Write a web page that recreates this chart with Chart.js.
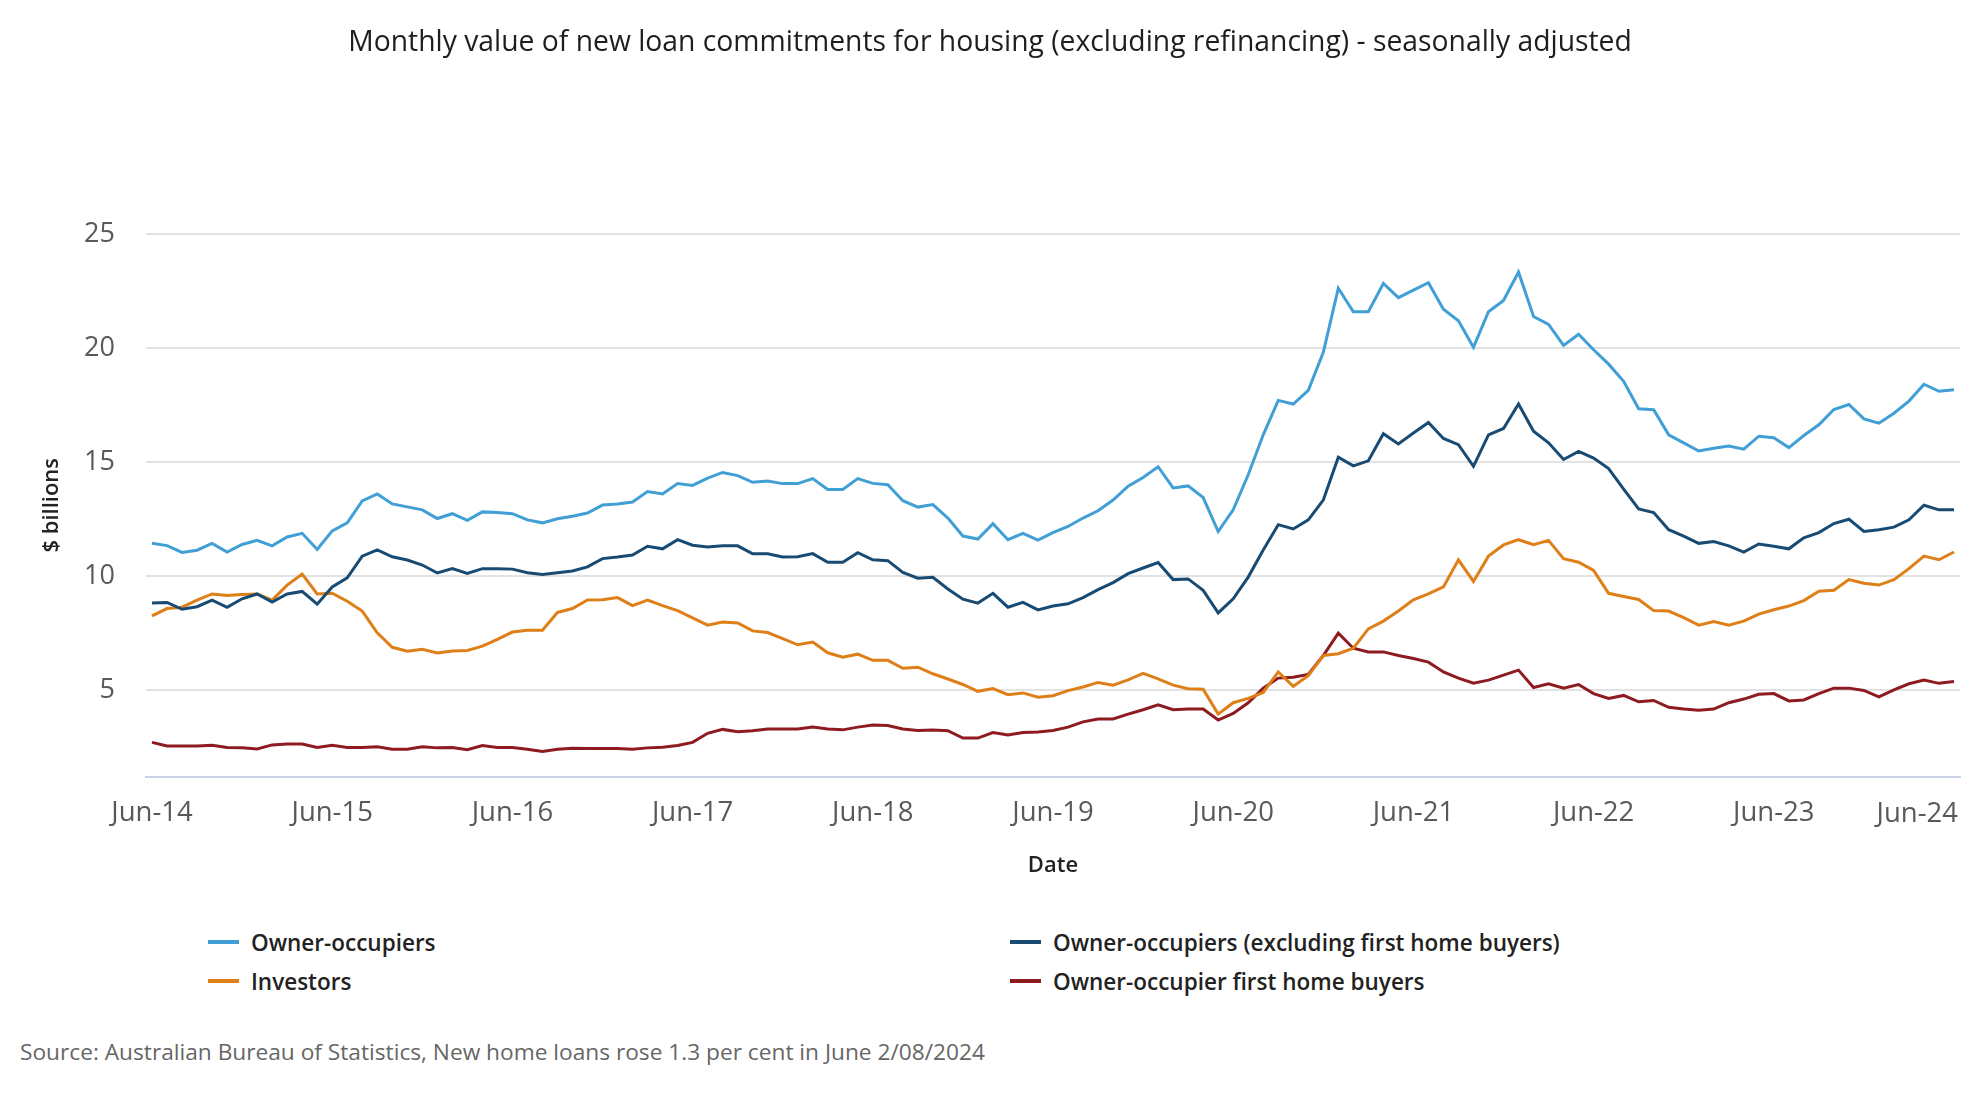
<!DOCTYPE html>
<html>
<head>
<meta charset="utf-8">
<script src="https://cdn.jsdelivr.net/npm/chart.js@4.4.1/dist/chart.umd.min.js"></script>
<style>
	body { margin: 0; background: #fff; font-family: "Open Sans", sans-serif; }
	#page { position: relative; width: 1980px; height: 1100px; overflow: hidden; }
	#chartBox { position: absolute; left: 0; top: 0; width: 1980px; height: 879px; }
	#legend { position: absolute; left: 208px; top: 927px; display: grid; grid-template-columns: 802px auto; row-gap: 9px; }
	.item { display: flex; align-items: center; height: 30px; font-size: 22.5px; font-weight: 600; color: #222; }
	.swatch { width: 31px; height: 4px; margin-right: 12px; }
	#source { position: absolute; left: 20px; top: 1036px; font-size: 22.7px; color: #666; }
</style>
</head>
<body>
<div id="page">
	<div id="chartBox"><canvas id="loans"></canvas></div>
	<div id="legend"></div>
	<div id="source">Source: Australian Bureau of Statistics, New home loans rose 1.3 per cent in June 2/08/2024</div>
</div>
<script>
	// Jun-14 .. Jun-24, monthly
	const monthNames = ['Jan','Feb','Mar','Apr','May','Jun','Jul','Aug','Sep','Oct','Nov','Dec'];
	const months = [];
	for (let i = 0; i <= 120; i++) {
		const m = 5 + i;
		months.push(monthNames[m % 12] + '-' + String(2014 + Math.floor(m / 12)).slice(2));
	}

	const yTicks = [5, 10, 15, 20, 25];

	// $ billions
	const owners = [
		11.43, 11.33, 11.03, 11.13, 11.43, 11.05, 11.38, 11.56, 11.32, 11.71, 11.87, 11.16,
		11.98, 12.33, 13.29, 13.60, 13.16, 13.03, 12.90, 12.52, 12.73, 12.44, 12.81, 12.78,
		12.73, 12.46, 12.33, 12.51, 12.62, 12.76, 13.11, 13.16, 13.24, 13.70, 13.60, 14.05,
		13.97, 14.29, 14.54, 14.40, 14.11, 14.16, 14.05, 14.05, 14.27, 13.79, 13.79, 14.27,
		14.06, 14.00, 13.30, 13.02, 13.13, 12.54, 11.75, 11.62, 12.29, 11.59, 11.87, 11.57,
		11.90, 12.17, 12.54, 12.86, 13.33, 13.94, 14.32, 14.79, 13.86, 13.95, 13.44, 11.95,
		12.90, 14.44, 16.19, 17.70, 17.54, 18.14, 19.81, 22.62, 21.59, 21.59, 22.83, 22.21,
		22.54, 22.86, 21.70, 21.19, 20.03, 21.59, 22.08, 23.33, 21.38, 21.03, 20.11, 20.60,
		19.92, 19.29, 18.54, 17.33, 17.29, 16.19, 15.84, 15.48, 15.60, 15.70, 15.56, 16.13,
		16.06, 15.63, 16.16, 16.63, 17.30, 17.52, 16.89, 16.70, 17.14, 17.67, 18.41, 18.10,
		18.17
	];

	const ownersExFirst = [
		8.81, 8.84, 8.54, 8.65, 8.94, 8.62, 9.00, 9.21, 8.86, 9.21, 9.32, 8.76,
		9.52, 9.92, 10.87, 11.14, 10.84, 10.70, 10.48, 10.13, 10.32, 10.11, 10.32, 10.32,
		10.30, 10.14, 10.06, 10.14, 10.22, 10.40, 10.76, 10.83, 10.92, 11.30, 11.19, 11.59,
		11.35, 11.27, 11.33, 11.32, 10.97, 10.97, 10.83, 10.84, 10.98, 10.60, 10.60, 11.02,
		10.71, 10.67, 10.16, 9.90, 9.94, 9.43, 8.98, 8.81, 9.24, 8.63, 8.84, 8.51,
		8.68, 8.78, 9.05, 9.40, 9.71, 10.10, 10.35, 10.59, 9.84, 9.87, 9.37, 8.38,
		9.00, 9.95, 11.14, 12.25, 12.06, 12.46, 13.33, 15.21, 14.83, 15.05, 16.24, 15.79,
		16.27, 16.73, 16.03, 15.76, 14.81, 16.19, 16.47, 17.54, 16.35, 15.84, 15.11, 15.46,
		15.17, 14.71, 13.81, 12.94, 12.78, 12.03, 11.75, 11.43, 11.51, 11.32, 11.05, 11.40,
		11.30, 11.19, 11.67, 11.90, 12.30, 12.49, 11.95, 12.03, 12.14, 12.46, 13.10, 12.90,
		12.90
	];

	const investors = [
		8.25, 8.57, 8.63, 8.94, 9.21, 9.14, 9.19, 9.21, 8.94, 9.60, 10.08, 9.21,
		9.24, 8.89, 8.46, 7.51, 6.87, 6.70, 6.78, 6.62, 6.71, 6.73, 6.92, 7.22,
		7.54, 7.62, 7.62, 8.40, 8.57, 8.95, 8.96, 9.05, 8.70, 8.94, 8.70, 8.48,
		8.16, 7.84, 7.98, 7.94, 7.59, 7.52, 7.25, 6.98, 7.10, 6.63, 6.44, 6.57,
		6.30, 6.30, 5.95, 6.00, 5.71, 5.48, 5.24, 4.94, 5.06, 4.79, 4.87, 4.68,
		4.75, 4.97, 5.13, 5.33, 5.21, 5.44, 5.73, 5.49, 5.21, 5.05, 5.03, 3.94,
		4.44, 4.63, 4.89, 5.79, 5.16, 5.63, 6.51, 6.59, 6.83, 7.68, 8.02, 8.46,
		8.95, 9.21, 9.52, 10.71, 9.76, 10.87, 11.36, 11.59, 11.37, 11.56, 10.76, 10.60,
		10.24, 9.24, 9.10, 8.97, 8.48, 8.46, 8.17, 7.84, 8.00, 7.84, 8.02, 8.33,
		8.52, 8.68, 8.92, 9.33, 9.37, 9.84, 9.68, 9.60, 9.84, 10.32, 10.87, 10.71,
		11.05
	];

	const firstHomeBuyers = [
		2.70, 2.54, 2.54, 2.54, 2.57, 2.48, 2.46, 2.41, 2.59, 2.63, 2.63, 2.48,
		2.57, 2.48, 2.48, 2.51, 2.40, 2.40, 2.51, 2.46, 2.48, 2.38, 2.56, 2.48,
		2.48, 2.40, 2.30, 2.40, 2.44, 2.43, 2.43, 2.43, 2.40, 2.46, 2.49, 2.56,
		2.70, 3.10, 3.27, 3.17, 3.21, 3.29, 3.29, 3.29, 3.38, 3.29, 3.25, 3.37,
		3.46, 3.44, 3.29, 3.22, 3.24, 3.21, 2.89, 2.89, 3.13, 3.03, 3.13, 3.16,
		3.22, 3.37, 3.60, 3.73, 3.73, 3.94, 4.13, 4.35, 4.13, 4.17, 4.16, 3.68,
		3.97, 4.44, 5.08, 5.52, 5.56, 5.68, 6.51, 7.49, 6.83, 6.67, 6.67, 6.51,
		6.38, 6.22, 5.79, 5.52, 5.30, 5.43, 5.65, 5.87, 5.11, 5.27, 5.08, 5.24,
		4.84, 4.63, 4.76, 4.48, 4.54, 4.24, 4.16, 4.11, 4.16, 4.44, 4.60, 4.81,
		4.84, 4.52, 4.56, 4.84, 5.08, 5.08, 4.98, 4.70, 5.00, 5.27, 5.43, 5.29,
		5.37
	];

	const seriesNames = [
		'Owner-occupiers',
		'Owner-occupiers (excluding first home buyers)',
		'Investors',
		'Owner-occupier first home buyers'
	];
	const seriesColors = ['#409fd5', '#184b73', '#de7f17', '#8d1b20'];
	const seriesValues = [owners, ownersExFirst, investors, firstHomeBuyers];

	// only June gets a label on the x axis
	const xTicks = months.map((m, i) => m.startsWith('Jun') ? i : null).filter(i => i !== null);

	const xTickPad = 12;
	const xTickSize = 27.5;

	Chart.defaults.font.family = '"Open Sans", sans-serif';

	// last label sits flush with the right edge, like the original
	const lastTickLabel = {
		id: 'lastTickLabel',
		afterDraw(chart) {
			const scale = chart.scales.x;
			const tick = scale.ticks[scale.ticks.length - 1];
			const ctx = chart.ctx;
			ctx.save();
			ctx.font = xTickSize + 'px "Open Sans"';
			ctx.fillStyle = '#595959';
			ctx.textAlign = 'right';
			ctx.textBaseline = 'middle';
			ctx.fillText(months[tick.value], chart.chartArea.right - 2, scale.top + xTickPad + 26);
			ctx.restore();
		}
	};

	const chart = new Chart(document.querySelector('#loans'), {
		type: 'line',
		data: {
			datasets: seriesValues.map((values, k) => ({
				label: seriesNames[k],
				data: values.map((v, i) => ({x: i, y: v})),
				borderColor: seriesColors[k],
				backgroundColor: seriesColors[k],
				borderWidth: 3,
				pointRadius: 0,
				tension: 0,
			}))
		},
		options: {
			animation: false,
			responsive: true,
			maintainAspectRatio: false,
			layout: {
				padding: 0
			},
			plugins: {
				legend: {display: false},
				tooltip: {enabled: false},
				title: {
					display: true,
					text: 'Monthly value of new loan commitments for housing (excluding refinancing) - seasonally adjusted',
					color: '#1e1e1e',
					font: {size: 28.3, weight: 500},
					padding: {top: 26, bottom: 174},
				},
			},
			scales: {
				x: {
					type: 'linear',
					min: -0.4,
					max: 120.4,
					afterBuildTicks: scale => {
						scale.ticks = xTicks.map(v => ({value: v}));
					},
					afterFit: scale => {
						// keep 20px on the right instead of room for a centred last label
						scale.paddingRight = 20;
					},
					grid: {display: false},
					border: {display: true, color: '#c9d3e5', width: 2},
					ticks: {
						autoSkip: false,
						maxRotation: 0,
						padding: xTickPad,
						font: {size: xTickSize},
						color: c => c.index === xTicks.length - 1 ? 'rgba(0,0,0,0)' : '#595959',
						callback: v => months[v],
					},
					title: {
						display: true,
						text: 'Date',
						color: '#222',
						font: {size: 22, weight: 600},
						padding: {top: 11, bottom: 0},
					},
				},
				y: {
					min: 1.2,
					max: 25,
					afterBuildTicks: scale => {
						scale.ticks = yTicks.map(v => ({value: v}));
					},
					afterFit: scale => {
						scale.width = 146;
					},
					grid: {color: '#e2e2e2', lineWidth: 2, drawTicks: false},
					border: {display: false},
					ticks: {
						padding: 31,
						font: {size: 27},
						color: '#595959',
					},
					title: {
						display: true,
						text: '$ billions',
						color: '#222',
						font: {size: 22, weight: 600},
						padding: {top: 39, bottom: 0},
					},
				},
			},
		},
		plugins: [lastTickLabel],
	});

	// two-column legend under the chart
	const legend = document.querySelector('#legend');
	chart.data.datasets.forEach(ds => {
		const item = document.createElement('div');
		item.className = 'item';
		const swatch = document.createElement('span');
		swatch.className = 'swatch';
		swatch.style.background = ds.borderColor;
		item.appendChild(swatch);
		item.appendChild(document.createTextNode(ds.label));
		legend.appendChild(item);
	});
</script>
</body>
</html>
